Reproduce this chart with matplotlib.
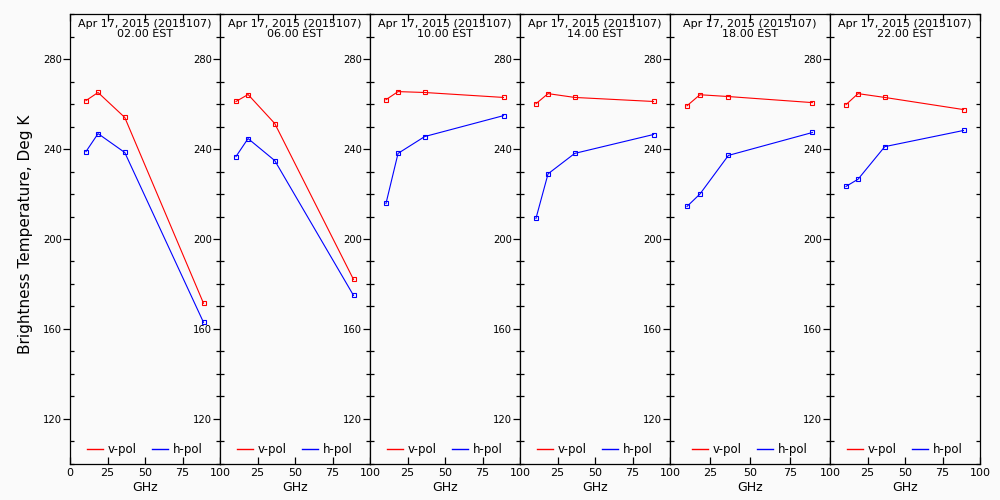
import matplotlib
matplotlib.use("Agg")
import matplotlib.pyplot as plt
from matplotlib.lines import Line2D
from matplotlib.ticker import MultipleLocator, FixedLocator

# channel frequencies (GHz)
freqs = [10.65, 18.7, 36.5, 89.0]

date_label = "Apr 17, 2015 (2015107)"
times = ["02.00 EST", "06.00 EST", "10.00 EST", "14.00 EST", "18.00 EST", "22.00 EST"]

# brightness temperatures (K), one list per panel
v_pol = [
    [261.6, 265.2, 254.1, 171.4],
    [261.2, 264.3, 251.4, 182.0],
    [262.0, 265.6, 265.2, 263.0],
    [260.2, 264.7, 263.0, 261.2],
    [259.3, 264.2, 263.4, 260.7],
    [259.8, 264.7, 263.0, 257.6],
]
h_pol = [
    [238.9, 246.9, 238.5, 162.9],
    [236.7, 244.7, 234.9, 174.9],
    [215.8, 238.1, 245.6, 254.9],
    [209.2, 229.0, 238.1, 246.5],
    [214.5, 220.0, 237.2, 247.4],
    [223.4, 226.6, 241.1, 248.3],
]

# panel layout in pixels (figure is 1000 x 500)
W, H = 1000, 500
lefts = [70, 220, 370, 520, 670, 830]
widths = [150, 150, 150, 150, 160, 150]
top_px, bot_px = 14.3, 463.7

bg = "#fafafa"
fig = plt.figure(figsize=(10, 5), dpi=100, facecolor=bg)

for i in range(6):
    ax = fig.add_axes([lefts[i] / W, 1 - bot_px / H, widths[i] / W, (bot_px - top_px) / H])
    ax.set_facecolor(bg)
    ax.plot(freqs, v_pol[i], color="#ff0000", lw=0.8, marker="s", ms=3.4,
            mfc="none", mew=0.8)
    ax.plot(freqs, h_pol[i], color="#0000ff", lw=0.8, marker="s", ms=3.4,
            mfc="none", mew=0.8)
    ax.set_xlim(0, 100)
    ax.set_ylim(100, 300)

    for s in ax.spines.values():
        s.set_linewidth(0.9)

    # x ticks
    if i == 0:
        ax.xaxis.set_major_locator(FixedLocator([0, 25, 50, 75, 100]))
    else:
        ax.xaxis.set_major_locator(FixedLocator([25, 50, 75, 100]))
    ax.tick_params(axis="x", which="major", direction="in", length=5, width=0.9,
                   top=True, labelsize=8, pad=3)
    ax.set_xlabel("GHz", fontsize=9, labelpad=2)

    # y ticks
    ax.yaxis.set_major_locator(FixedLocator([120, 160, 200, 240, 280]))
    ax.yaxis.set_minor_locator(MultipleLocator(10))
    ax.tick_params(axis="y", which="major", direction="out", length=5, width=0.9,
                   labelsize=7.2, pad=1, right=False)
    ax.tick_params(axis="y", which="minor", direction="in", length=3, width=0.9,
                   right=True)

    # two-line title inside the panel
    ax.text(0.5, (bot_px - 26.7) / (bot_px - top_px), date_label, transform=ax.transAxes,
            ha="center", va="baseline", fontsize=8)
    ax.text(0.5, (bot_px - 36.7) / (bot_px - top_px), times[i], transform=ax.transAxes,
            ha="center", va="baseline", fontsize=8)

    handles = [Line2D([], [], color="#ff0000", lw=1), Line2D([], [], color="#0000ff", lw=1)]
    ax.legend(handles, ["v-pol", "h-pol"], ncol=2, loc="center",
              bbox_to_anchor=(0.5, 13.7 / (bot_px - top_px)), frameon=False,
              fontsize=8.5, handlelength=1.3, handletextpad=0.45, columnspacing=1.3,
              borderpad=0, borderaxespad=0)

fig.text(0.026, 1 - 234 / H, "Brightness Temperature, Deg K", rotation=90,
         ha="center", va="center", fontsize=11)

fig.savefig("out.png", dpi=100, facecolor=bg)
